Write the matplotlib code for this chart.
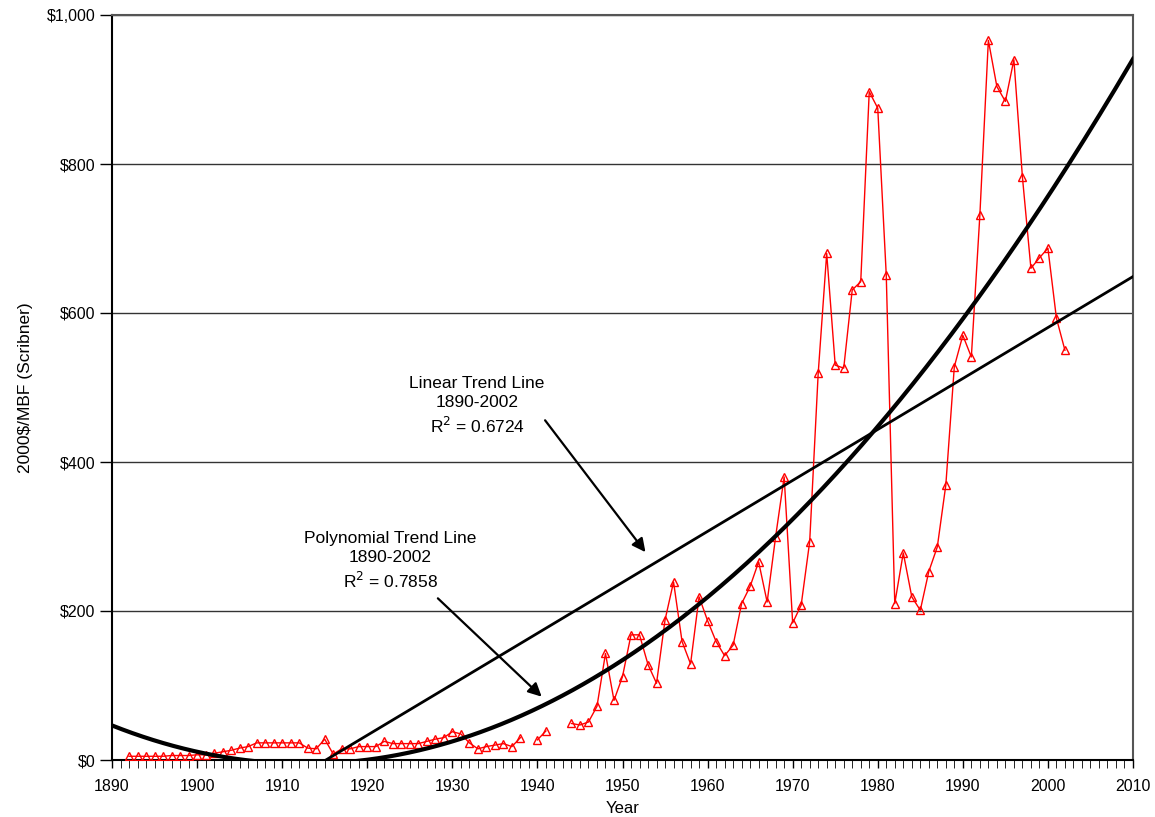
import numpy as np
import matplotlib.pyplot as plt
from matplotlib.ticker import MultipleLocator, FuncFormatter

plt.rcParams['font.family'] = ['Liberation Sans', 'DejaVu Sans']

# Precio real de la madera (2000$/MBF), NaN = año sin dato
years = np.arange(1892, 2003)
prices = [5, 5, 5, 5, 5, 6, 6, 6, 7, 7,            # 1892-1901
          9, 11, 13, 16, 18, 23, 23, 23, 23, 23,   # 1902-1911
          23, 16, 15, 28, 8, 15, 15, 18, 18, 18,   # 1912-1921
          25, 22, 22, 22, 22, 25, 28, 30, 38, 35,  # 1922-1931
          23, 15, 18, 20, 22, 18, 30, np.nan, 27, 39,  # 1932-1941
          np.nan, np.nan, 49, 47, 51, 72, 143, 80, 112, 168,  # 1942-1951
          168, 128, 103, 188, 239, 159, 129, 219, 187, 159,   # 1952-1961
          140, 154, 210, 233, 266, 212, 300, 380, 184, 208,   # 1962-1971
          293, 519, 680, 530, 526, 631, 642, 897, 875, 651,   # 1972-1981
          210, 278, 219, 201, 253, 286, 369, 528, 570, 541,   # 1982-1991
          731, 966, 904, 884, 940, 783, 660, 674, 687, 593,   # 1992-2001
          550]                                                # 2002
prices = np.array(prices, dtype=float)

# Líneas de tendencia ajustadas sobre los datos
ok = ~np.isnan(prices)
lin = np.polyfit(years[ok], prices[ok], 1)
quad = np.polyfit(years[ok], prices[ok], 2)
xt = np.linspace(1890, 2010, 400)

fig = plt.figure(figsize=(11.55, 8.17), dpi=100)
ax = fig.add_axes([112/1155, 1 - 760/817, (1133-112)/1155, (760-15)/817])

ax.plot(years, prices, color='#ff0000', lw=1.0, marker='^', ms=6,
        mfc='none', mec='#ff0000', mew=1.0, zorder=3)
ax.plot(xt, np.polyval(lin, xt), color='black', lw=2.0, zorder=4)
ax.plot(xt, np.polyval(quad, xt), color='black', lw=3.0, zorder=4)

ax.set_xlim(1890, 2010)
ax.set_ylim(0, 1000)
ax.xaxis.set_major_locator(MultipleLocator(10))
ax.xaxis.set_minor_locator(MultipleLocator(1))
ax.yaxis.set_major_locator(MultipleLocator(200))
ax.yaxis.set_major_formatter(FuncFormatter(lambda v, p: '${:,.0f}'.format(v)))
ax.tick_params(axis='both', direction='out', labelsize=11.5, width=1)
ax.tick_params(axis='x', which='both', length=6, pad=8)
ax.tick_params(axis='y', length=9, pad=3)
ax.grid(axis='y', color='#333333', lw=1.0)
ax.set_axisbelow(True)
for s in ['top', 'right']:
    ax.spines[s].set_color('#555555')
    ax.spines[s].set_linewidth(1.5)
for s in ['left', 'bottom']:
    ax.spines[s].set_color('black')
    ax.spines[s].set_linewidth(1.5)

ax.set_xlabel('Year', fontsize=12, labelpad=5)
ax.set_ylabel('2000$/MBF (Scribner)', fontsize=12.5, labelpad=10)

flecha = dict(arrowstyle='-|>', color='black', lw=1.6, mutation_scale=20, shrinkA=0, shrinkB=0)
ax.text(1932.9, 475, 'Linear Trend Line\n1890-2002\nR$^2$ = 0.6724',
        ha='center', va='center', fontsize=12.5, linespacing=1.35)
ax.annotate('', xy=(1952.7, 279), xytext=(1940.9, 456), arrowprops=flecha)
ax.text(1922.7, 267, 'Polynomial Trend Line\n1890-2002\nR$^2$ = 0.7858',
        ha='center', va='center', fontsize=12.5, linespacing=1.35)
ax.annotate('', xy=(1940.5, 85), xytext=(1928.3, 217), arrowprops=flecha)

fig.savefig('out.png', dpi=100)
